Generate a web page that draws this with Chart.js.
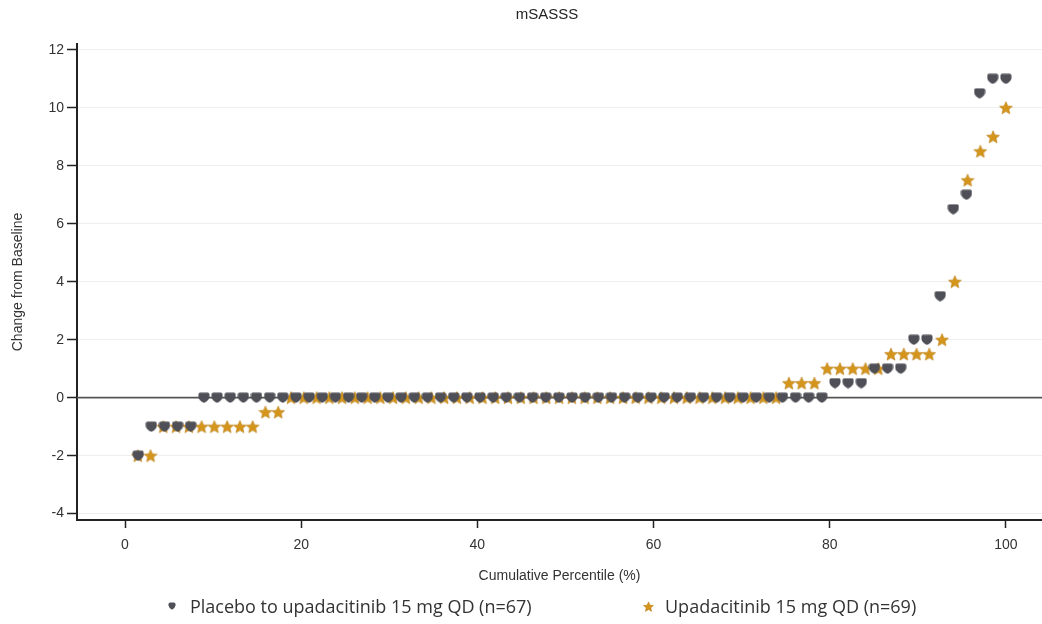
<!DOCTYPE html>
<html>
<head>
<meta charset="utf-8">
<title>mSASSS</title>
<script src="https://cdn.jsdelivr.net/npm/chart.js@4.4.1/dist/chart.umd.min.js"></script>
<style>
  html, body { margin: 0; padding: 0; background: #fff; }
  #wrap { position: relative; width: 1042px; height: 624px; }
  #title {
    position: absolute; left: 447px; width: 200px; top: 4px; text-align: center;
    font-family: "Liberation Sans", Arial, sans-serif; font-size: 15px; color: #222; line-height: 20px;
  }
  #legend {
    position: absolute; left: 0; top: 594px; width: 1042px; height: 24px;
    font-family: "Open Sans", "Noto Sans", sans-serif; font-size: 18px; color: #333;
  }
  #legend .item { position: absolute; top: 0; line-height: 24px; white-space: nowrap; }
  #legend canvas { position: absolute; }
</style>
</head>
<body>
<div id="wrap">
  <canvas id="chart" width="1042" height="624"></canvas>
  <div id="title">mSASSS</div>
  <div id="legend"></div>
</div>
<script>
// Series labels
const seriesNames = ['Placebo to upadacitinib 15 mg QD (n=67)', 'Upadacitinib 15 mg QD (n=69)'];

// Change from baseline per patient, sorted (placebo -> upa, n=67)
const placeboChange = [
  -2,
  -1, -1, -1, -1,
  0, 0, 0, 0, 0, 0, 0, 0, 0, 0, 0, 0,
  0, 0, 0, 0, 0, 0, 0, 0, 0, 0, 0, 0,
  0, 0, 0, 0, 0, 0, 0, 0, 0, 0, 0, 0,
  0, 0, 0, 0, 0, 0, 0, 0, 0, 0, 0, 0,
  0.5, 0.5, 0.5,
  1, 1, 1,
  2, 2, 3.5, 6.5, 7, 10.5, 11, 11
];

// Change from baseline per patient, sorted (upadacitinib, n=69)
const upaChange = [
  -2, -2,
  -1, -1, -1, -1, -1, -1, -1, -1,
  -0.5, -0.5,
  0, 0, 0, 0, 0, 0, 0, 0, 0, 0, 0, 0, 0,
  0, 0, 0, 0, 0, 0, 0, 0, 0, 0, 0, 0, 0,
  0, 0, 0, 0, 0, 0, 0, 0, 0, 0, 0, 0, 0,
  0.5, 0.5, 0.5,
  1, 1, 1, 1, 1,
  1.5, 1.5, 1.5, 1.5,
  2, 4, 7.5, 8.5, 9, 10
];

const xTicks = [0, 20, 40, 60, 80, 100];
const yTicks = [-4, -2, 0, 2, 4, 6, 8, 10, 12];

const GRAY = '#4f4f57';
const GOLD = '#d4951a';

// cumulative percentile: rank / n * 100
function toPoints(vals) {
  return vals.map((v, i) => ({ x: (i + 1) / vals.length * 100, y: v }));
}

// shield-like marker used for the placebo arm
function makeShield(w, h, color) {
  const c = document.createElement('canvas');
  c.width = w; c.height = h;
  const g = c.getContext('2d');
  g.fillStyle = color;
  g.beginPath();
  g.moveTo(0.5, 2);
  g.quadraticCurveTo(0.5, 0.5, 2.2, 0.5);
  g.lineTo(w - 2.2, 0.5);
  g.quadraticCurveTo(w - 0.5, 0.5, w - 0.5, 2);
  g.lineTo(w - 0.5, h * 0.45);
  g.quadraticCurveTo(w - 0.8, h * 0.75, w / 2, h - 0.3);
  g.quadraticCurveTo(0.8, h * 0.75, 0.5, h * 0.45);
  g.closePath();
  g.fill();
  return c;
}

function makeStar(size, color) {
  const c = document.createElement('canvas');
  c.width = size; c.height = size;
  const g = c.getContext('2d');
  const cx = size / 2, cy = size / 2 + 0.6;
  const ro = size / 2 - 0.3, ri = ro * 0.45;
  g.beginPath();
  for (let k = 0; k < 10; k++) {
    const r = k % 2 ? ri : ro;
    const a = -Math.PI / 2 + k * Math.PI / 5;
    const px = cx + r * Math.cos(a), py = cy + r * Math.sin(a);
    k ? g.lineTo(px, py) : g.moveTo(px, py);
  }
  g.closePath();
  g.fillStyle = color;
  g.fill();
  g.strokeStyle = '#b8790c';
  g.lineWidth = 0.6;
  g.stroke();
  return c;
}

const shieldIcon = makeShield(12, 11, GRAY);
const starIcon = makeStar(14, GOLD);

// horizontal reference line at 0
const zeroLine = {
  id: 'zeroLine',
  beforeDatasetsDraw(chart) {
    const { ctx, chartArea, scales } = chart;
    const y = scales.y.getPixelForValue(0);
    ctx.save();
    ctx.strokeStyle = '#555';
    ctx.lineWidth = 1.6;
    ctx.beginPath();
    ctx.moveTo(chartArea.left, y);
    ctx.lineTo(chartArea.right, y);
    ctx.stroke();
    ctx.restore();
  }
};

const tickFont = { family: '"Liberation Sans", Arial, sans-serif', size: 14 };

new Chart(document.getElementById('chart'), {
  type: 'scatter',
  data: {
    datasets: [
      { label: seriesNames[0], data: toPoints(placeboChange), pointStyle: shieldIcon, pointRadius: 6 },
      { label: seriesNames[1], data: toPoints(upaChange), pointStyle: starIcon, pointRadius: 6 }
    ]
  },
  plugins: [zeroLine],
  options: {
    responsive: false,
    animation: false,
    layout: { autoPadding: false, padding: { left: 0, right: 0, top: 44, bottom: 34 } },
    plugins: {
      legend: { display: false },
      tooltip: { enabled: false },
      title: { display: false }
    },
    scales: {
      x: {
        type: 'linear',
        min: -5.45,
        max: 104.1,
        afterFit: s => { s.height = 70; },
        afterBuildTicks: s => { s.ticks = xTicks.map(v => ({ value: v })); },
        ticks: { color: '#333', font: tickFont, padding: 9, maxRotation: 0 },
        grid: { drawOnChartArea: false, tickColor: '#222', tickLength: 8, tickWidth: 1.5 },
        border: { color: '#222', width: 2 },
        title: {
          display: true,
          text: 'Cumulative Percentile (%)',
          color: '#333',
          font: tickFont,
          padding: { top: 4, bottom: 5 }
        }
      },
      y: {
        min: -4.22,
        max: 12.2,
        afterFit: s => { s.width = 77; },
        afterBuildTicks: s => { s.ticks = yTicks.map(v => ({ value: v })); },
        ticks: { color: '#333', font: tickFont, padding: 3 },
        grid: { color: '#eeeeee', lineWidth: 1, tickColor: '#222', tickLength: 10, tickWidth: 1.5 },
        border: { color: '#222', width: 2 },
        title: {
          display: true,
          text: 'Change from Baseline',
          color: '#333',
          font: tickFont,
          padding: { top: 10, bottom: 0 }
        }
      }
    }
  }
});

// html legend under the plot
const legend = document.getElementById('legend');
const legendItems = [
  { icon: makeShield(8, 8, GRAY), cx: 172, textX: 190, text: seriesNames[0] },
  { icon: makeStar(11, GOLD), cx: 648, textX: 665, text: seriesNames[1] }
];
legendItems.forEach(it => {
  const ic = it.icon;
  ic.style.left = (it.cx - ic.width / 2) + 'px';
  ic.style.top = (12 - ic.height / 2) + 'px';
  legend.appendChild(ic);
  const sp = document.createElement('span');
  sp.className = 'item';
  sp.style.left = it.textX + 'px';
  sp.textContent = it.text;
  legend.appendChild(sp);
});
</script>
</body>
</html>
